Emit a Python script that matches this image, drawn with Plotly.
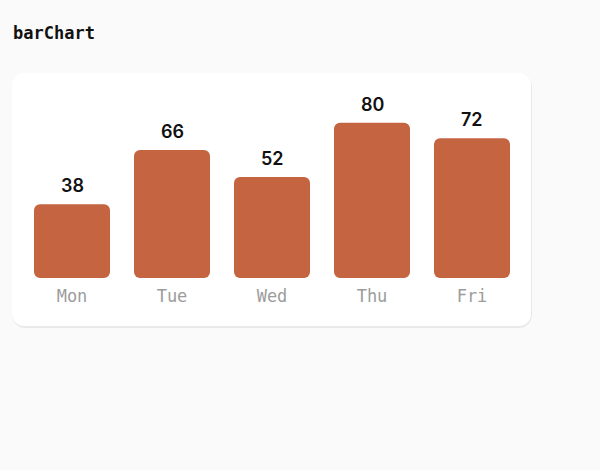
import plotly.graph_objects as go

days = ["Mon", "Tue", "Wed", "Thu", "Fri"]
values = [38, 66, 52, 80, 72]
chart_title = "barChart"

W, H = 600, 470
BAR = "#c56441"

def px(x):
    return x / W

def py(y):
    return 1 - y / H

def rounded_rect(x0, y0, x1, y1, r):
    k = 0.45
    def P(x, y):
        return f"{px(x):.5f},{py(y):.5f}"
    d = f"M {P(x0 + r, y0)} L {P(x1 - r, y0)} "
    d += f"C {P(x1 - r * k, y0)} {P(x1, y0 + r * k)} {P(x1, y0 + r)} "
    d += f"L {P(x1, y1 - r)} "
    d += f"C {P(x1, y1 - r * k)} {P(x1 - r * k, y1)} {P(x1 - r, y1)} "
    d += f"L {P(x0 + r, y1)} "
    d += f"C {P(x0 + r * k, y1)} {P(x0, y1 - r * k)} {P(x0, y1 - r)} "
    d += f"L {P(x0, y0 + r)} "
    d += f"C {P(x0, y0 + r * k)} {P(x0 + r * k, y0)} {P(x0 + r, y0)} Z"
    return d

fig = go.Figure()
fig.add_trace(go.Bar(
    x=days, y=values, base=[0] * len(values),
    marker=dict(color=BAR, line=dict(width=0), cornerradius=6),
    hoverinfo="skip", showlegend=False,
))

annotations = [dict(text=f"<b>{chart_title}</b>", xref="paper", yref="paper",
                    x=px(11), y=py(33), xanchor="left", yanchor="middle", showarrow=False,
                    font=dict(family="DejaVu Sans Mono, monospace", size=17, color="#111111"))]
for d, v in zip(days, values):
    annotations.append(dict(
        x=d, y=v, xref="x", yref="y", text=str(v), showarrow=False,
        xanchor="center", yanchor="bottom", yshift=6,
        font=dict(family="Inter, sans-serif", size=18, color="#111111", weight=600),
    ))

shapes = [
    dict(type="path", xref="paper", yref="paper", layer="below",
         path=rounded_rect(12, 74, 532, 328, 13), fillcolor="#e9e9e9", line=dict(width=0)),
    dict(type="path", xref="paper", yref="paper", layer="below",
         path=rounded_rect(12, 73, 531, 326, 12), fillcolor="#ffffff", line=dict(width=0)),
]

fig.update_layout(
    width=W, height=H,
    margin=dict(l=0, r=0, t=0, b=0),
    paper_bgcolor="#fafafa", plot_bgcolor="rgba(0,0,0,0)",
    bargap=0.24,
    shapes=shapes,
    annotations=annotations,
    xaxis=dict(domain=[px(22), px(522)], showgrid=False, zeroline=False, showline=False,
               ticks="", automargin=False, ticklabelstandoff=6,
               tickfont=dict(family="DejaVu Sans Mono, monospace", size=17, color="#9c9c9c")),
    yaxis=dict(domain=[py(278), py(80)], range=[0, 102], visible=False, automargin=False),
)

fig.write_html("out.html")
